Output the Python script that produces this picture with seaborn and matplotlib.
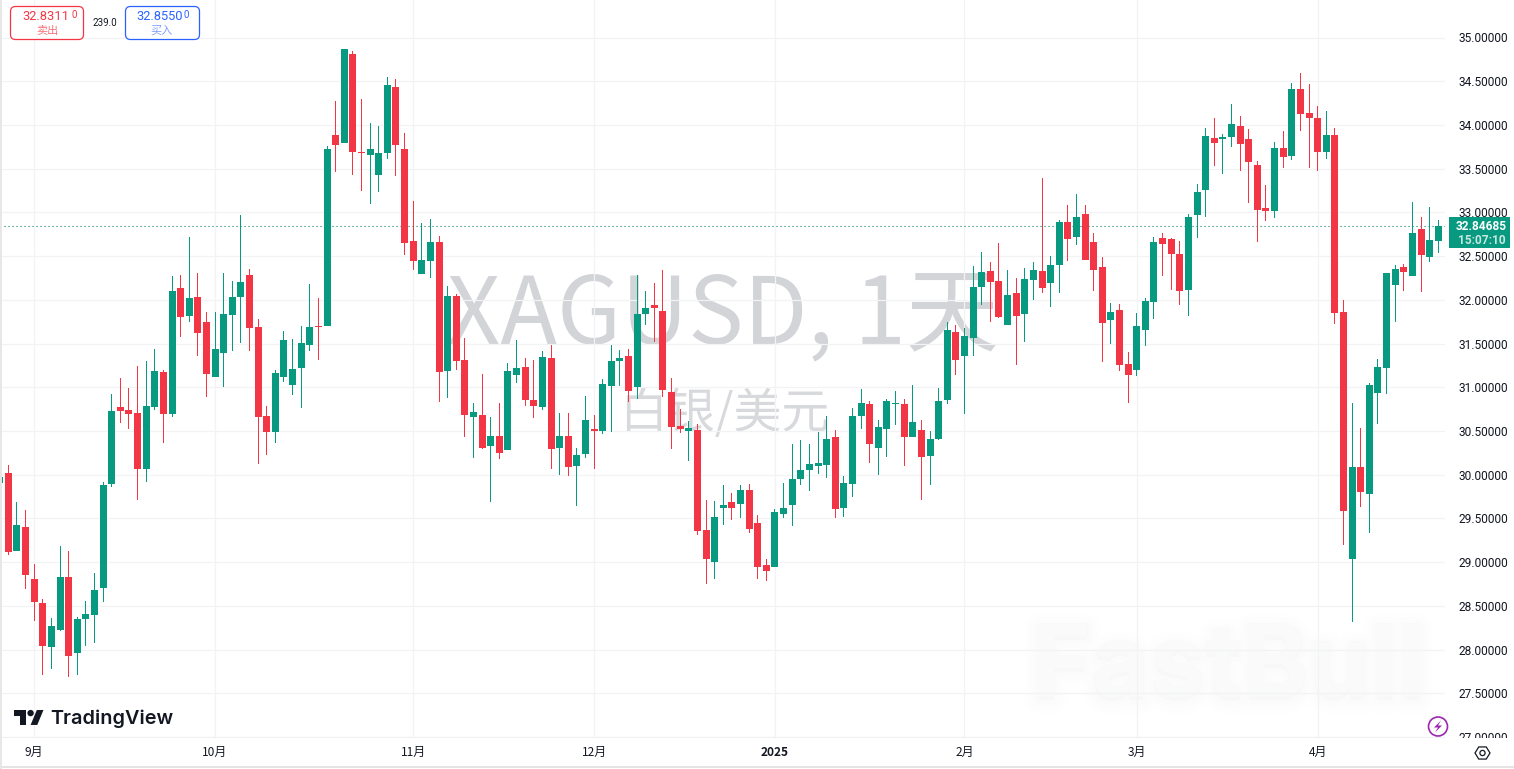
import numpy as np
import pandas as pd
import matplotlib
matplotlib.use("Agg")
import matplotlib.pyplot as plt
import matplotlib.patheffects as pe
from matplotlib.patches import FancyBboxPatch, Rectangle, Circle, Polygon
from matplotlib.transforms import Bbox
import seaborn as sns

# ---------- data ----------
opens = [29.91,30.02,29.13,29.40,28.81,28.53,28.03,28.22,28.83,27.96,28.35,28.40,28.70,29.89,30.77,30.74,30.71,30.07,30.77,31.17,
         30.69,32.14,31.82,32.03,31.75,31.12,31.39,31.83,32.03,32.28,31.69,30.67,30.49,31.12,31.03,31.22,31.48,31.70,31.70,33.89,
         33.79,34.81,33.69,33.66,33.43,33.68,34.43,33.72,32.67,32.30,32.44,32.66,31.19,32.04,31.31,30.66,30.68,30.33,30.44,30.28,
         31.14,31.23,30.85,30.77,31.34,30.31,30.44,30.10,30.24,30.52,30.50,31.01,31.30,31.36,31.00,31.84,31.94,31.87,30.95,30.56,
         30.50,30.51,29.37,29.00,29.62,29.69,29.67,29.83,29.45,28.97,28.95,29.55,29.65,29.95,30.05,30.10,30.11,30.43,29.62,29.89,
         30.67,30.81,30.31,30.52,30.81,30.81,30.43,30.51,30.21,30.41,30.85,31.63,31.36,31.56,32.15,32.33,32.22,31.71,32.08,31.84,
         32.23,32.33,32.19,32.40,32.89,32.72,32.98,32.66,32.38,31.77,31.88,31.27,31.20,31.66,31.98,32.71,32.70,32.52,32.11,32.97,
         33.26,33.85,33.84,33.86,33.99,33.84,33.54,33.05,33.02,33.74,33.64,34.41,34.14,34.08,33.69,33.89,31.86,29.04,30.09,29.78,
         30.93,31.22,32.17,32.38,32.27,32.81,32.49,32.67]
highs = [30.00,30.11,29.69,29.60,28.98,28.58,28.36,29.18,29.13,28.37,28.56,28.88,29.92,30.92,31.11,30.99,31.24,31.30,31.44,31.20,
         32.27,32.28,32.72,32.31,31.86,31.86,32.31,32.22,32.97,32.35,31.78,30.79,31.20,31.64,31.55,31.70,32.18,32.02,33.76,34.27,
         34.87,34.85,34.30,34.02,33.99,34.55,34.53,33.91,33.13,32.88,32.92,32.73,32.16,32.07,31.56,30.82,31.15,30.66,30.82,31.28,
         31.54,31.34,31.31,31.41,31.48,30.71,30.71,30.31,30.90,30.68,31.10,31.48,31.43,31.44,32.28,32.10,32.19,32.34,31.11,30.75,
         30.61,30.58,29.71,29.70,29.88,29.79,29.88,29.89,29.54,29.04,29.61,29.91,30.35,30.40,30.35,30.49,30.67,30.51,29.99,30.76,
         30.98,30.84,30.63,30.87,30.96,30.87,31.03,30.63,30.50,30.99,31.75,31.71,31.68,32.39,32.55,32.43,32.65,32.34,32.25,32.36,
         32.43,33.39,32.50,32.91,33.08,33.21,33.08,32.76,32.49,31.96,31.95,31.40,31.85,32.02,32.72,32.76,32.71,32.67,32.98,33.32,
         33.96,34.08,33.90,34.24,34.10,33.95,33.59,33.31,33.80,33.93,34.48,34.59,34.47,34.22,34.16,33.97,32.00,30.82,30.53,31.05,
         31.32,32.31,32.40,32.41,33.12,32.95,33.06,32.91]
lows = [29.88,29.08,29.13,28.69,28.33,27.71,27.78,28.21,27.69,27.71,28.04,28.08,28.54,29.86,30.59,30.52,29.71,29.92,30.74,30.36,
        30.66,31.58,31.75,31.36,30.89,31.12,31.00,31.42,31.51,31.41,30.12,30.23,30.36,31.06,30.91,30.76,31.41,31.31,31.70,33.46,
        33.79,33.43,33.24,33.10,33.23,33.61,33.42,32.51,32.34,32.30,32.25,30.83,30.88,31.20,30.43,30.19,30.29,29.69,30.18,30.28,
        31.05,30.79,30.65,30.74,30.07,30.00,29.99,29.64,30.19,30.07,30.47,30.49,31.01,30.83,30.87,31.71,31.52,30.89,30.29,30.48,
        30.16,29.31,28.75,28.81,29.43,29.48,29.51,29.33,28.81,28.79,28.95,29.51,29.41,29.88,29.81,30.01,29.96,29.51,29.52,29.75,
        30.52,30.13,30.00,30.20,30.57,30.10,30.43,29.71,29.88,30.40,30.81,31.14,30.69,31.36,31.94,31.75,31.79,31.71,31.26,31.52,
        32.00,32.08,31.92,32.08,32.44,32.63,32.46,32.10,31.29,31.50,31.19,30.82,31.13,31.47,31.78,32.27,32.11,31.94,31.81,32.71,
        32.95,33.53,33.44,33.75,33.47,33.11,32.66,32.90,32.94,33.51,33.60,33.93,33.51,33.47,33.61,31.72,29.20,28.32,29.63,29.33,
        30.58,30.92,31.75,32.10,32.27,32.09,32.43,32.54]
closes = [29.97,29.12,29.43,28.85,28.54,28.04,28.27,28.83,27.93,28.35,28.41,28.68,29.88,30.73,30.73,30.69,30.07,30.79,31.19,30.69,
          32.10,31.80,32.02,31.62,31.15,31.44,31.84,32.03,32.20,31.68,30.66,30.49,31.16,31.54,31.21,31.51,31.69,31.69,33.72,33.77,
          34.87,33.69,33.68,33.72,33.68,34.46,33.77,32.65,32.44,32.46,32.66,31.17,32.04,31.30,30.68,30.72,30.31,30.44,30.25,31.19,
          31.22,30.85,30.79,31.35,30.29,30.44,30.09,30.23,30.63,30.50,31.04,31.30,31.34,30.96,31.84,31.91,31.91,30.97,30.55,30.52,
          30.53,29.36,29.04,29.52,29.65,29.62,29.83,29.38,28.95,28.90,29.57,29.62,29.95,30.05,30.12,30.13,30.41,29.61,29.91,30.67,
          30.82,30.35,30.55,30.84,30.82,30.43,30.60,30.20,30.41,30.84,31.66,31.31,31.59,32.15,32.32,32.20,31.80,32.06,31.82,32.24,
          32.34,32.14,32.40,32.89,32.70,32.95,32.46,32.34,31.74,31.86,31.26,31.14,31.70,31.99,32.66,32.64,32.52,32.10,32.95,33.23,
          33.87,33.79,33.86,34.01,33.78,33.58,33.03,33.02,33.74,33.63,34.41,34.12,34.08,33.69,33.89,31.85,29.59,30.09,29.80,31.03,
          31.23,32.31,32.35,32.32,32.77,32.51,32.69,32.85]

month_idx = [4, 25, 48, 69, 90, 112, 132, 153]
month_labels = ["9月", "10月", "11月", "12月", "2025", "2月", "3月", "4月"]
price_ticks = [27.0 + 0.5 * k for k in range(17)]
last_price = 32.85

GREEN, RED = "#089981", "#F23645"
W, H = 1514, 769
PLOT_R, PLOT_B = 1445, 738
STEP = 8.614

sns.set_theme(style="white", rc={"axes.facecolor": "none", "figure.facecolor": "white"})
plt.rcParams["font.family"] = ["Roboto", "Noto Sans CJK SC", "DejaVu Sans"]
CJK = ["Noto Sans CJK SC", "DejaVu Sans"]

fig = plt.figure(figsize=(W / 100, H / 100), dpi=100)
rect = [0, (H - PLOT_B) / H, PLOT_R / W, PLOT_B / H]

# ---------- watermark layer, behind the candles ----------
bg = fig.add_axes([0, 0, 1, 1], zorder=0)
bg.set_xlim(0, W); bg.set_ylim(H, 0); bg.axis("off")
bg.text(447, 343, "XAGUSD, 1天", fontsize=67, color="#D3D4D8", family=CJK, ha="left", va="baseline")
bg.text(619, 428, "白银/美元", fontsize=34.5, color="#D8D9DC", family=CJK, ha="left", va="baseline")
shadow = [pe.withStroke(linewidth=w, foreground="#000000", alpha=0.004, offset=(0, -3)) for w in (20, 15, 10, 6)]
bg.text(1229, 696, "FastBull", fontsize=72, weight="bold", family="Inter", color="#FAFAFA",
        ha="center", va="baseline", path_effects=shadow + [pe.Normal()])

# ---------- candles ----------
df = pd.DataFrame({"i": np.arange(len(opens)), "o": opens, "h": highs, "l": lows, "c": closes})
df["up"] = df["c"] >= df["o"]
df["bot"] = df[["o", "c"]].min(axis=1)
df["body"] = (df["c"] - df["o"]).abs().clip(lower=0.012)
df["wick"] = df["h"] - df["l"]

ax = fig.add_axes(rect, zorder=1)
for flag, col in ((True, GREEN), (False, RED)):
    sub = df[df["up"] == flag]
    sns.barplot(data=sub, x="i", y="wick", bottom=sub["l"].values, native_scale=True, errorbar=None,
                width=1.0 / STEP, color=col, saturation=1, linewidth=0, ax=ax, zorder=3)
    sns.barplot(data=sub, x="i", y="body", bottom=sub["bot"].values, native_scale=True, errorbar=None,
                width=7.0 / STEP, color=col, saturation=1, linewidth=0, ax=ax, zorder=3)

ax.set_xlim(0.28 / STEP, (PLOT_R + 0.28) / STEP)
ax.set_ylim(35 - (PLOT_B - 37.5) / 87.45, 35 + 37.5 / 87.45)
ax.set_xlabel(""); ax.set_ylabel("")
price_line = ax.axhline(last_price, color="#06806C", lw=0.8, ls=(0, (1, 2.6)), zorder=2)
price_line.set_snap(True)

ax.set_axisbelow(True)
ax.grid(True, color="#F2F3F5", lw=0.9)
ax.yaxis.tick_right()
ax.set_yticks(price_ticks)
ax.set_yticklabels([f"{p:.5f}" for p in price_ticks], fontsize=8.6, color="#131722")
ax.set_xticks(month_idx)
ax.set_xticklabels(month_labels, fontsize=8.6, color="#131722", family=CJK)
ax.tick_params(axis="y", length=0, pad=9.4)
ax.tick_params(axis="x", length=0, pad=5.5)
for lbl in ax.get_xticklabels():
    if lbl.get_text() == "2025":
        lbl.set_fontweight("bold")
for s in ax.spines.values():
    s.set_visible(False)
# the lowest price label is cut by the time axis
ax.get_yticklabels()[0].set_clip_box(Bbox([[0, H - PLOT_B], [W, H]]))
ax.get_yticklabels()[0].set_clip_on(True)

# ---------- interface overlay ----------
ov = fig.add_axes([0, 0, 1, 1], zorder=2)
ov.set_xlim(0, W); ov.set_ylim(H, 0); ov.axis("off"); ov.patch.set_alpha(0)
ov.add_patch(Rectangle((0, 0), 2, H, fc="#E7E7E7", ec="none"))
ov.add_patch(Rectangle((2, 737), PLOT_R - 2, 1, fc="#EFF0F3", ec="none"))
ov.add_patch(Rectangle((2, 766), W, 2, fc="#E4E4E4", ec="none"))

for x0, x1, col in ((10.5, 83.5, RED), (125.5, 199.5, "#2962FF")):
    ov.add_patch(FancyBboxPatch((x0 + 4, 6.5 + 4), x1 - x0 - 8, 33 - 8, boxstyle="round,pad=4,rounding_size=5",
                                fc="white", ec=col, lw=0.9))
ov.text(22, 16, "32.8311", color=RED, fontsize=9.3, ha="left", va="center")
ov.text(71, 14.5, "0", color=RED, fontsize=7, ha="left", va="center")
ov.text(47, 31, "卖出", color="#F7737D", fontsize=8, family=CJK, ha="center", va="center")
ov.text(136.5, 16, "32.8550", color="#2962FF", fontsize=9.3, ha="left", va="center")
ov.text(183.5, 14.5, "0", color="#2962FF", fontsize=7, ha="left", va="center")
ov.text(162, 31, "买入", color="#7F9FFF", fontsize=8, family=CJK, ha="center", va="center")
ov.text(105, 23.5, "239.0", color="#131722", fontsize=7, ha="center", va="center")

ov.add_patch(Rectangle((1449, 217), 61, 31, fc=GREEN, ec="none"))
ov.text(1481.5, 226, "32.84685", color="white", fontsize=8.6, weight="bold", ha="center", va="center")
ov.text(1481.5, 240, "15:07:10", color="#C6E8E1", fontsize=8.6, weight="bold", ha="center", va="center")

# TradingView logo
sx, ox, oy = 0.83, 14, 706.7
P = lambda pts: [(ox + a * sx, oy + b * sx) for a, b in pts]
ov.add_patch(Polygon(P([(0, 4), (14, 4), (14, 22), (7, 22), (7, 11), (0, 11)]), fc="#131722", ec="none"))
ov.add_patch(Polygon(P([(27.5, 4), (35.5, 4), (28, 22), (20, 22)]), fc="#131722", ec="none"))
ov.add_patch(Circle((ox + 20 * sx, oy + 7.7 * sx), 3.2, fc="#131722", ec="none"))
ov.text(50.5, 719, "TradingView", color="#131722", fontsize=14.3, weight="semibold", family="Inter",
        ha="left", va="center")

# lightning badge
ov.add_patch(Circle((1438, 726.5), 9.5, fc="white", ec="#9C27B0", lw=1.2))
ov.add_patch(Polygon([(1441, 720.5), (1434, 727.5), (1438, 727.5), (1435, 732.5), (1442, 725.5), (1438, 725.5)], fc="#9C27B0", ec="none"))

# settings hexagon
th = np.deg2rad(np.arange(0, 360, 60))
ov.add_patch(Polygon(np.c_[1482.5 + 7.5 * np.cos(th), 753 + 7 * np.sin(th)], fc="none", ec="#131722", lw=0.9))
ov.add_patch(Circle((1482.5, 753), 2.6, fc="none", ec="#131722", lw=0.9))

fig.savefig("out.png", dpi=100)
